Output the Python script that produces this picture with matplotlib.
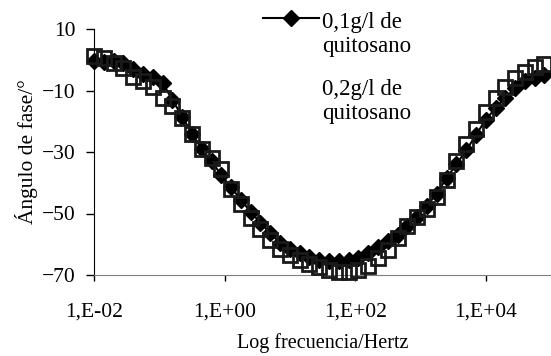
import numpy as np
import matplotlib
matplotlib.use("Agg")
import matplotlib.pyplot as plt
from matplotlib.lines import Line2D
from matplotlib.ticker import FixedLocator, FuncFormatter, NullLocator

plt.rcParams["font.family"] = ["Liberation Serif", "DejaVu Serif"]

# log10 of frequency (Hz) for each measured point
log_freq = [
    -2.0, -1.85, -1.7, -1.55, -1.4, -1.25, -1.1, -0.95, -0.8, -0.65,
    -0.5, -0.35, -0.2, -0.05, 0.1, 0.25, 0.4, 0.55, 0.7, 0.85,
    1.0, 1.15, 1.3, 1.45, 1.6, 1.75, 1.9, 2.05, 2.2, 2.35,
    2.5, 2.65, 2.8, 2.95, 3.1, 3.25, 3.4, 3.55, 3.7, 3.85,
    4.0, 4.15, 4.3, 4.45, 4.6, 4.75, 4.9,
]

# phase angle (degrees), 0.1 g/l chitosan
phase_01 = [
    -0.5, -0.8, -0.5, -1.0, -3.0, -4.5, -5.5, -7.5, -13.0, -18.5,
    -24.0, -29.0, -33.0, -37.5, -41.5, -45.5, -49.5, -53.0, -56.5, -59.5,
    -61.5, -63.0, -64.0, -65.0, -65.5, -65.5, -65.0, -64.5, -63.0, -61.0,
    -59.0, -57.0, -54.0, -51.0, -47.5, -43.5, -38.5, -34.0, -29.5, -24.5,
    -19.5, -15.8, -12.3, -9.3, -7.0, -5.8, -5.0,
]

# phase angle (degrees), 0.2 g/l chitosan
phase_02 = [
    1.2, 0.5, -1.0, -2.7, -5.5, -6.8, -9.0, -12.5, -15.0, -19.0,
    -24.0, -29.0, -32.0, -35.5, -42.0, -47.0, -51.5, -55.0, -58.5, -61.5,
    -63.5, -65.0, -66.5, -67.5, -68.5, -69.0, -69.0, -68.5, -67.0, -64.5,
    -62.0, -58.0, -54.0, -51.0, -48.5, -44.5, -39.0, -33.0, -27.5, -22.5,
    -17.0, -12.5, -9.0, -6.0, -4.0, -2.3, -1.5,
]

labels = ["0,1g/l de\nquitosano", "0,2g/l de\nquitosano"]
y_ticks = [10, -10, -30, -50, -70]
x_ticks = [1e-2, 1e0, 1e2, 1e4]

W, H = 551, 356
freq = 10.0 ** np.array(log_freq)

fig = plt.figure(figsize=(W / 100, H / 100), dpi=100)
ax = fig.add_axes([94 / W, 81 / H, 1 - 94 / W, 246 / H])

ax.plot(freq, phase_01, color="black", linewidth=1.5, marker="D",
        markersize=8, markerfacecolor="black", markeredgecolor="black",
        clip_on=False, zorder=3)
ax.plot(freq, phase_02, linestyle="none", marker="s", markersize=10,
        markerfacecolor="none", markeredgecolor="#1a1a1a",
        markeredgewidth=2.0, clip_on=False, zorder=4)

ax.set_xscale("log")
ax.set_xlim(1e-2, 1e5)
ax.set_ylim(-70, 10)
ax.xaxis.set_major_locator(FixedLocator(x_ticks))
ax.xaxis.set_minor_locator(NullLocator())
ax.xaxis.set_major_formatter(
    FuncFormatter(lambda v, _: f"1,E{int(round(np.log10(v))):+03d}"))
ax.yaxis.set_major_locator(FixedLocator(y_ticks))

for side in ("top", "right"):
    ax.spines[side].set_visible(False)
ax.spines["bottom"].set_color("#808080")
ax.spines["left"].set_color("black")

ax.tick_params(axis="y", direction="out", length=6, width=1, labelsize=15.5,
               pad=7)
ax.tick_params(axis="x", direction="out", length=4, width=1, color="black",
               labelsize=15.5, pad=16)

ax.set_xlabel("Log frecuencia/Hertz", fontsize=14.5, labelpad=8)
ax.set_ylabel("Ángulo de fase/°", fontsize=15.5, labelpad=3)

# legend drawn by hand: Excel aligns the sample with the first text line
fig.add_artist(Line2D([263 / W, 319 / W], [1 - 18 / H, 1 - 18 / H],
                      transform=fig.transFigure, color="black",
                      linewidth=1.5))
fig.add_artist(Line2D([291 / W], [1 - 18 / H], transform=fig.transFigure,
                      linestyle="none", marker="D", markersize=8,
                      color="black"))
for label, base in zip(labels, [28, 95]):
    for i, line in enumerate(label.split("\n")):
        fig.text(322 / W, 1 - (base + 24 * i) / H, line, fontsize=16.5,
                 va="baseline", ha="left")

fig.savefig("out.png", dpi=100)
